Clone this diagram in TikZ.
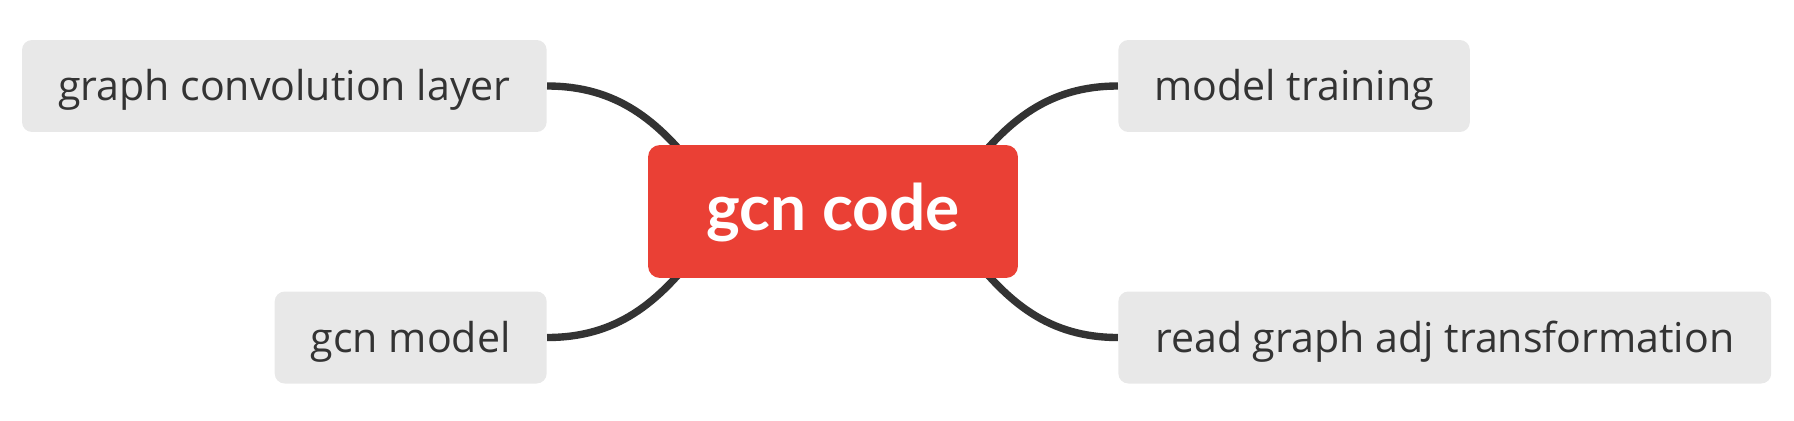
\documentclass[tikz,border=0pt]{standalone}
\usepackage{fontspec}
\setmainfont{Open Sans}
\newfontfamily\rootfont{Lato}
\usetikzlibrary{positioning, calc, backgrounds}
\definecolor{rootred}{HTML}{EA4035}
\definecolor{leafgray}{HTML}{E8E8E8}
\definecolor{inkgray}{HTML}{333333}

\begin{document}
\begin{tikzpicture}[x=0.02cm,y=-0.02cm,
    root/.style={fill=rootred, text=white, rounded corners=0.24cm, minimum width=7.4cm, minimum height=2.66cm, text height=0.95cm, text depth=0.19cm, font=\rootfont\bfseries\fontsize{36.4}{40}\selectfont},
    leaf/.style={fill=leafgray, text=inkgray, rounded corners=0.2cm, minimum height=1.84cm, inner xsep=0.72cm, inner ysep=0pt, text height=0.75cm, text depth=0.16cm, font=\fontsize{23.4}{28}\selectfont},
    branch/.style={draw=inkgray, line width=4.2pt}]
    \useasboundingbox (0,0) rectangle (1794,420);

    % central topic
    \node[root] (root) at (833,211.5) {gcn code};

    % subtopics
    \node[leaf, minimum width=10.48cm, anchor=east] (conv)  at (547,86)    {graph convolution layer};
    \node[leaf, minimum width=5.44cm, anchor=east]  (model) at (547,337.5) {gcn model};
    \node[leaf, minimum width=6.96cm, anchor=west]  (train) at (1118,86)   {model training};
    \node[leaf, minimum width=13.06cm, anchor=west] (adj)   at (1118,337.5) {read graph adj transformation};

    % branches run under the central topic
    \begin{pgfonlayer}{background}
      \coordinate (convend)  at ($(root.center)+(-133,-36.5)$);
      \coordinate (modelend) at ($(root.center)+(-133,36.5)$);
      \coordinate (trainend) at ($(root.center)+(133,-36.5)$);
      \coordinate (adjend)   at ($(root.center)+(133,36.5)$);
      \draw[branch] (conv.east)  to[out=0,in=127]    (convend);
      \draw[branch] (model.east) to[out=0,in=-127]   (modelend);
      \draw[branch] (train.west) to[out=180,in=53]   (trainend);
      \draw[branch] (adj.west)   to[out=180,in=-53]  (adjend);
    \end{pgfonlayer}
\end{tikzpicture}
\end{document}
